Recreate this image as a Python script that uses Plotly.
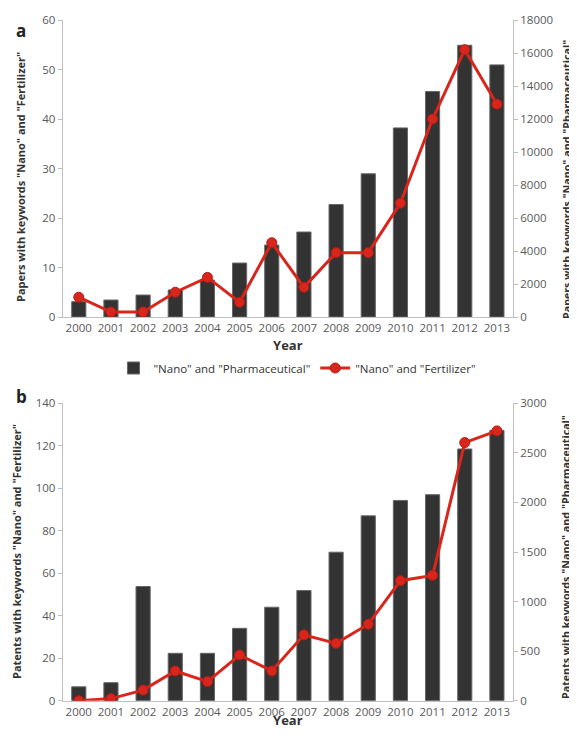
import plotly.graph_objects as go

years = [str(y) for y in range(2000, 2014)]

# Panel a: papers
papers_pharma = [930, 1030, 1330, 1640, 2240, 3270, 4360, 5150, 6820, 8680, 11460, 13670, 16470, 15280]
papers_fert = [4, 1, 1, 5, 8, 3, 15, 6, 13, 13, 23, 40, 54, 43]

# Panel b: patents
patents_pharma = [140, 182, 1152, 478, 478, 730, 943, 1111, 1498, 1865, 2020, 2078, 2539, 2727]
patents_fert = [0, 1, 5, 14, 9, 21.5, 14, 31, 27, 36, 56.5, 59, 121.5, 127]

left_ticks_a = [0, 10, 20, 30, 40, 50, 60]
right_ticks_a = [0, 2000, 4000, 6000, 8000, 10000, 12000, 14000, 16000, 18000]
left_ticks_b = [0, 20, 40, 60, 80, 100, 120, 140]
right_ticks_b = [0, 500, 1000, 1500, 2000, 2500, 3000]

FONT = "Open Sans"
BAR_C = "#333333"
RED = "#d9261c"
TICK_C = "#595959"
AX_C = "#bfbfbf"

# the page body has a default 8px margin; size the figure so it fits the 577x737 window
# without scrollbars
OFF = 8
W, H = 577 - OFF, 737 - 2 * OFF

def px(x):
    return (x - OFF) / W

def py(y):
    return 1 - (y - OFF) / H

fig = go.Figure()

def add_panel(xa, y_bar, y_line, pharma, fert, show):
    fig.add_trace(go.Bar(
        x=years, y=pharma, xaxis=xa, yaxis=y_bar,
        name='"Nano" and "Pharmaceutical"',
        marker=dict(color=BAR_C, line=dict(color="#666666", width=1)),
        showlegend=show, legendrank=1,
    ))
    fig.add_trace(go.Scatter(
        x=years, y=fert, xaxis=xa, yaxis=y_line,
        mode="lines+markers",
        name='"Nano" and "Fertilizer"',
        line=dict(color=RED, width=3),
        marker=dict(color=RED, size=10, line=dict(color="#b81c14", width=1)),
        showlegend=show, legendrank=2,
    ))

# base axes (y, y3) hold the bars on the right side; overlaying axes (y2, y4) hold lines on the left
add_panel("x", "y", "y2", papers_pharma, papers_fert, True)
add_panel("x2", "y3", "y4", patents_pharma, patents_fert, False)

xdom = [px(62.7), px(513)]
dom_a = [py(317), py(20)]
dom_b = [py(700.7), py(403.3)]

tickfont = dict(family=FONT, size=11.5, color=TICK_C)

def xaxis(anchor, standoff):
    return dict(
        domain=xdom, anchor=anchor, type="category", automargin=False,
        range=[-0.5, len(years) - 0.5],
        showline=True, linecolor=AX_C, linewidth=1,
        ticks="", tickfont=tickfont, showgrid=False,
        title=dict(text="<b>Year</b>", font=dict(family=FONT, size=13, color="#333333"), standoff=standoff),
        fixedrange=True,
    )

def yaxis(dom, rng, tv, side, overlaying=None, anchor=None):
    d = dict(
        domain=dom, range=rng, tickvals=tv, side=side, tickformat="d", automargin=False,
        showline=True, linecolor=AX_C, linewidth=1,
        ticks="outside", ticklen=4, tickcolor=AX_C,
        tickfont=tickfont, showgrid=False, zeroline=False,
    )
    if overlaying:
        d["overlaying"] = overlaying
    if anchor:
        d["anchor"] = anchor
    return d

def ytitle(text, x, y, size=11):
    return dict(text="<b>" + text + "</b>", x=px(x), y=py(y), xref="paper", yref="paper",
                textangle=-90, showarrow=False, font=dict(family=FONT, size=size, color="#333333"),
                xanchor="center", yanchor="middle")

fig.update_layout(
    width=W, height=H,
    margin=dict(l=0, r=0, t=0, b=0, autoexpand=False),
    paper_bgcolor="white", plot_bgcolor="white",
    bargap=0.56,
    font=dict(family=FONT),
    xaxis=xaxis("y", 7),
    xaxis2=xaxis("y3", 0),
    yaxis=yaxis(dom_a, [0, 18000], right_ticks_a, "right", anchor="x"),
    yaxis2=yaxis(dom_a, [0, 60], left_ticks_a, "left", overlaying="y", anchor="x"),
    yaxis3=yaxis(dom_b, [0, 3000], right_ticks_b, "right", anchor="x2"),
    yaxis4=yaxis(dom_b, [0, 140], left_ticks_b, "left", overlaying="y3", anchor="x2"),
    legend=dict(
        orientation="h", x=px(297), xanchor="center", y=py(368), yanchor="middle",
        font=dict(family=FONT, size=11.5, color="#333333"),
        traceorder="normal",
    ),
    annotations=[
        dict(text="<b>a</b>", x=px(14), y=py(17), xref="paper", yref="paper",
             showarrow=False, font=dict(family=FONT, size=17, color="#222222")),
        dict(text="<b>b</b>", x=px(14), y=py(396), xref="paper", yref="paper",
             showarrow=False, font=dict(family=FONT, size=17, color="#222222")),
        ytitle('Papers with keywords "Nano" and "Fertilizer"', 20, 177),
        ytitle('Patents with keywords "Nano" and "Fertilizer"', 16, 552),
        ytitle('Papers with keywords "Nano" and "Pharmaceutical"', 567, 180, 10.7),
        ytitle('Patents with keywords "Nano" and "Pharmaceutical"', 566, 557, 10.7),
    ],
)

fig.write_html("out.html")
